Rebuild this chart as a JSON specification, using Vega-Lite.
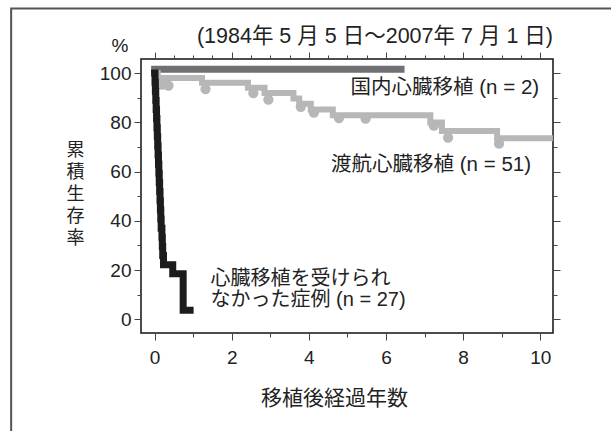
{
  "$schema": "https://vega.github.io/schema/vega-lite/v6.json",
  "width": 412,
  "height": 274,
  "autosize": {"type": "none"},
  "padding": {"left": 141, "top": 59, "right": 58, "bottom": 98},
  "background": "white",
  "config": {
    "view": {"stroke": "#111111", "strokeWidth": 1.5},
    "font": "Liberation Sans, Noto Sans CJK JP, sans-serif"
  },
  "datasets": {
    "domestic": [{"t": 0, "s": 101.5}, {"t": 6.39, "s": 101.5}],
    "overseas": [
      {"t": 0, "s": 100}, {"t": 0.08, "s": 98.0}, {"t": 1.23, "s": 96.1}, {"t": 2.42, "s": 94.0},
      {"t": 2.85, "s": 91.9}, {"t": 3.6, "s": 89.7}, {"t": 3.75, "s": 87.5}, {"t": 4.05, "s": 85.2},
      {"t": 4.62, "s": 82.9}, {"t": 7.15, "s": 79.9}, {"t": 7.45, "s": 76.5}, {"t": 8.88, "s": 73.5},
      {"t": 10.25, "s": 73.5}
    ],
    "censor": [
      {"t": 0.2, "s": 95.3}, {"t": 0.36, "s": 94.9}, {"t": 1.32, "s": 93.5}, {"t": 2.56, "s": 91.8},
      {"t": 2.95, "s": 89.2}, {"t": 3.79, "s": 86.3}, {"t": 4.13, "s": 83.9}, {"t": 4.78, "s": 81.7},
      {"t": 5.47, "s": 81.5}, {"t": 7.24, "s": 78.6}, {"t": 7.61, "s": 73.8}, {"t": 8.93, "s": 71.3}
    ],
    "notrans": [
      {"t": 0, "s": 100}, {"t": 0.01, "s": 96.3}, {"t": 0.02, "s": 92.6}, {"t": 0.03, "s": 88.9},
      {"t": 0.04, "s": 85.2}, {"t": 0.05, "s": 81.5}, {"t": 0.06, "s": 77.8}, {"t": 0.07, "s": 74.1},
      {"t": 0.08, "s": 70.4}, {"t": 0.09, "s": 66.7}, {"t": 0.10, "s": 63.0}, {"t": 0.11, "s": 59.3},
      {"t": 0.12, "s": 55.6}, {"t": 0.13, "s": 51.9}, {"t": 0.14, "s": 48.1}, {"t": 0.15, "s": 44.4},
      {"t": 0.16, "s": 40.7}, {"t": 0.17, "s": 37.0}, {"t": 0.19, "s": 33.3}, {"t": 0.20, "s": 29.6},
      {"t": 0.21, "s": 25.9}, {"t": 0.23, "s": 22.2}, {"t": 0.47, "s": 18.5}, {"t": 0.74, "s": 3.7},
      {"t": 0.92, "s": 3.7}
    ],
    "labelsRight": [
      {"t": 9.97, "s": 94.0, "label": "国内心臓移植 (n = 2)"},
      {"t": 9.76, "s": 62.8, "label": "渡航心臓移植 (n = 51)"}
    ],
    "dateRange": [
      {"t": 10.33, "s": 114.7, "label": "(1984年 5 月 5 日〜2007年 7 月 1 日)"}
    ],
    "labelsLeft": [
      {"t": 1.45, "s": 16.2, "label": "心臓移植を受けられ"},
      {"t": 1.45, "s": 7.7, "label": "なかった症例 (n = 27)"}
    ],
    "unit": [{"t": -0.9, "s": 111.1, "label": "%"}]
  },
  "resolve": {"axis": {"x": "independent", "y": "independent"}},
  "layer": [
    {
      "data": {"name": "domestic"},
      "mark": {"type": "line", "stroke": "#707073", "strokeWidth": 7, "strokeCap": "square"},
      "encoding": {
        "x": {
          "field": "t", "type": "quantitative",
          "scale": {"domain": [-0.353, 10.33], "nice": false, "zero": false},
          "axis": {
            "orient": "bottom",
            "values": [0, 0.5, 1, 1.5, 2, 2.5, 3, 3.5, 4, 4.5, 5, 5.5, 6, 6.5, 7, 7.5, 8, 8.5, 9, 9.5, 10],
            "format": "d",
            "labelExpr": "datum.value % 2 === 0 ? datum.label : ''",
            "tickSize": {"condition": {"test": "datum.value % 2 === 0", "value": 7}, "value": 4},
            "tickColor": "#444444", "tickWidth": 1,
            "domain": false, "grid": false,
            "labelFont": "Liberation Sans", "labelFontSize": 19, "labelColor": "#222222",
            "labelPadding": 8, "labelOverlap": false, "labelFlush": false, "labelBound": false,
            "title": "移植後経過年数",
            "titleFont": "Noto Sans CJK JP", "titleFontSize": 21, "titleFontWeight": "normal", "titleColor": "#222222",
            "titleX": 193, "titleY": 65, "titleBaseline": "middle", "titleAlign": "center"
          }
        },
        "y": {
          "field": "s", "type": "quantitative",
          "scale": {"domain": [-5.55, 105.7], "nice": false, "zero": false},
          "axis": {
            "orient": "left",
            "values": [0, 10, 20, 30, 40, 50, 60, 70, 80, 90, 100],
            "format": "d",
            "labelExpr": "datum.value % 20 === 0 ? datum.label : ''",
            "tickSize": {"condition": {"test": "datum.value % 20 === 0", "value": 7}, "value": 4},
            "tickColor": "#444444", "tickWidth": 1,
            "domain": false, "grid": false,
            "labelFont": "Liberation Sans", "labelFontSize": 19, "labelColor": "#222222",
            "labelPadding": 3, "labelOverlap": false, "labelFlush": false, "labelBound": false,
            "title": ["累", "積", "生", "存", "率"],
            "titleFont": "Noto Sans CJK JP", "titleFontSize": 18, "titleFontWeight": "normal", "titleColor": "#222222",
            "titleLineHeight": 22, "titleAngle": 0,
            "titleX": -66, "titleY": 91, "titleBaseline": "middle", "titleAlign": "center"
          }
        }
      }
    },
    {
      "data": {"name": "overseas"},
      "mark": {"type": "line", "interpolate": "step-after", "stroke": "#b6b7b9", "strokeWidth": 6, "strokeCap": "square", "strokeJoin": "miter"},
      "encoding": {
        "x": {
          "field": "t", "type": "quantitative",
          "scale": {"domain": [-0.353, 10.33], "nice": false, "zero": false},
          "axis": {
            "orient": "top",
            "values": [0, 0.5, 1, 1.5, 2, 2.5, 3, 3.5, 4, 4.5, 5, 5.5, 6, 6.5, 7, 7.5, 8, 8.5, 9, 9.5, 10],
            "labels": false,
            "tickSize": {"condition": {"test": "datum.value % 2 === 0", "value": 7}, "value": 4},
            "tickColor": "#444444", "tickWidth": 1,
            "domain": false, "grid": false, "title": null
          }
        },
        "y": {
          "field": "s", "type": "quantitative",
          "scale": {"domain": [-5.55, 105.7], "nice": false, "zero": false},
          "axis": {
            "orient": "right",
            "values": [0, 10, 20, 30, 40, 50, 60, 70, 80, 90, 100],
            "labels": false,
            "tickSize": {"condition": {"test": "datum.value % 20 === 0", "value": 7}, "value": 4},
            "tickColor": "#444444", "tickWidth": 1,
            "domain": false, "grid": false, "title": null
          }
        }
      }
    },
    {
      "data": {"name": "censor"},
      "mark": {"type": "point", "shape": "circle", "filled": true, "color": "#b6b7b9", "opacity": 1, "size": 105},
      "encoding": {
        "x": {"field": "t", "type": "quantitative", "scale": {"domain": [-0.353, 10.33], "nice": false, "zero": false}, "axis": null},
        "y": {"field": "s", "type": "quantitative", "scale": {"domain": [-5.55, 105.7], "nice": false, "zero": false}, "axis": null}
      }
    },
    {
      "data": {"name": "notrans"},
      "mark": {"type": "line", "interpolate": "step-after", "stroke": "#1c1c1c", "strokeWidth": 7, "strokeCap": "square", "strokeJoin": "miter"},
      "encoding": {
        "x": {"field": "t", "type": "quantitative", "scale": {"domain": [-0.353, 10.33], "nice": false, "zero": false}, "axis": null},
        "y": {"field": "s", "type": "quantitative", "scale": {"domain": [-5.55, 105.7], "nice": false, "zero": false}, "axis": null}
      }
    },
    {
      "data": {"name": "labelsRight"},
      "mark": {"type": "text", "align": "right", "baseline": "middle", "fontSize": 20.5, "color": "#222222", "font": "Liberation Sans, Noto Sans CJK JP, sans-serif"},
      "encoding": {
        "x": {"field": "t", "type": "quantitative", "scale": {"domain": [-0.353, 10.33], "nice": false, "zero": false}, "axis": null},
        "y": {"field": "s", "type": "quantitative", "scale": {"domain": [-5.55, 105.7], "nice": false, "zero": false}, "axis": null},
        "text": {"field": "label"}
      }
    },
    {
      "data": {"name": "dateRange"},
      "mark": {"type": "text", "align": "right", "baseline": "middle", "fontSize": 21.5, "color": "#222222", "font": "Liberation Sans, Noto Sans CJK JP, sans-serif"},
      "encoding": {
        "x": {"field": "t", "type": "quantitative", "scale": {"domain": [-0.353, 10.33], "nice": false, "zero": false}, "axis": null},
        "y": {"field": "s", "type": "quantitative", "scale": {"domain": [-5.55, 105.7], "nice": false, "zero": false}, "axis": null},
        "text": {"field": "label"}
      }
    },
    {
      "data": {"name": "labelsLeft"},
      "mark": {"type": "text", "align": "left", "baseline": "middle", "fontSize": 20, "color": "#222222", "font": "Liberation Sans, Noto Sans CJK JP, sans-serif"},
      "encoding": {
        "x": {"field": "t", "type": "quantitative", "scale": {"domain": [-0.353, 10.33], "nice": false, "zero": false}, "axis": null},
        "y": {"field": "s", "type": "quantitative", "scale": {"domain": [-5.55, 105.7], "nice": false, "zero": false}, "axis": null},
        "text": {"field": "label"}
      }
    },
    {
      "data": {"name": "unit"},
      "mark": {"type": "text", "align": "center", "baseline": "middle", "fontSize": 19, "color": "#222222", "font": "Liberation Sans, sans-serif"},
      "encoding": {
        "x": {"field": "t", "type": "quantitative", "scale": {"domain": [-0.353, 10.33], "nice": false, "zero": false}, "axis": null},
        "y": {"field": "s", "type": "quantitative", "scale": {"domain": [-5.55, 105.7], "nice": false, "zero": false}, "axis": null},
        "text": {"field": "label"}
      }
    },
    {
      "data": {"values": [{}]},
      "mark": {"type": "rect", "fill": null, "stroke": "#555555", "strokeWidth": 2, "clip": false},
      "encoding": {
        "x": {"datum": -3.72, "type": "quantitative", "scale": {"domain": [-0.353, 10.33], "nice": false, "zero": false}, "axis": null},
        "x2": {"datum": 12.5},
        "y": {"datum": 126.2, "type": "quantitative", "scale": {"domain": [-5.55, 105.7], "nice": false, "zero": false}, "axis": null},
        "y2": {"datum": -50}
      }
    }
  ]
}
